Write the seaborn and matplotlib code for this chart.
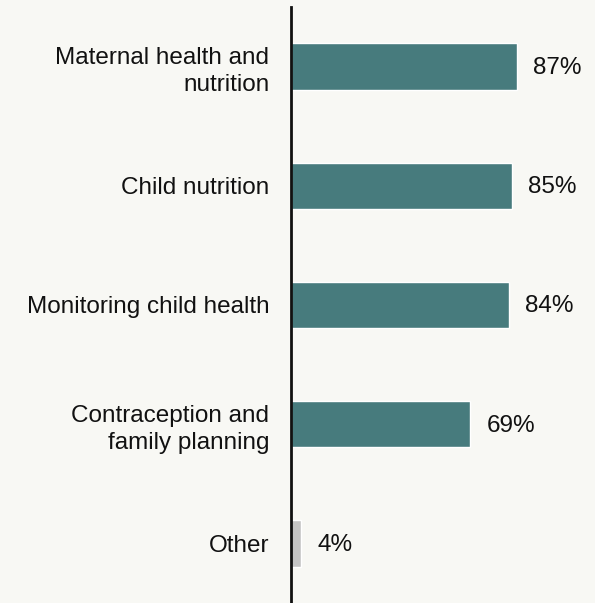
import matplotlib
matplotlib.use("Agg")
import matplotlib.pyplot as plt
from matplotlib.transforms import offset_copy
import seaborn as sns
import pandas as pd

categories = ["Maternal health and\nnutrition", "Child nutrition", "Monitoring child health",
              "Contraception and\nfamily planning", "Other"]
values = [87, 85, 84, 69, 4]
value_labels = ["87%", "85%", "84%", "69%", "4%"]
colors = ["#477b7d", "#477b7d", "#477b7d", "#477b7d", "#c4c4c4"]

bg = "#f8f8f4"
sns.set_theme(style="white")
plt.rcParams["font.family"] = ["Liberation Sans", "DejaVu Sans"]

df = pd.DataFrame({"category": categories, "value": values})

fig = plt.figure(figsize=(5.95, 6.03), dpi=100, facecolor=bg)
ax = fig.add_axes([291 / 595, 0, 1 - 291 / 595, 596 / 603])
ax.set_facecolor(bg)

sns.barplot(data=df, x="value", y="category", hue="category", palette=colors,
            saturation=1, legend=False, width=0.39, edgecolor="white", linewidth=1,
            ax=ax, orient="h")

ax.set_xlim(0, 117)
ax.set_ylim(4.5, -0.5)
ax.set_xlabel("")
ax.set_ylabel("")
ax.set_xticks([])
ax.tick_params(axis="y", length=0, pad=15.5, labelsize=17.5, labelcolor="#111111")
for lab in ax.get_yticklabels():
    lab.set_horizontalalignment("right")
    lab.set_multialignment("right")
    lab.set_linespacing(1.3)

for side in ["top", "right", "bottom"]:
    ax.spines[side].set_visible(False)
ax.spines["left"].set_color("#111111")
ax.spines["left"].set_linewidth(2)

trans = offset_copy(ax.transData, fig=fig, x=16, y=-1.5, units="dots")
for i, (v, t) in enumerate(zip(values, value_labels)):
    ax.text(v, i, t, transform=trans, ha="left", va="center", fontsize=17.5, color="#111111")

fig.savefig("out.png", dpi=100, facecolor=bg)
